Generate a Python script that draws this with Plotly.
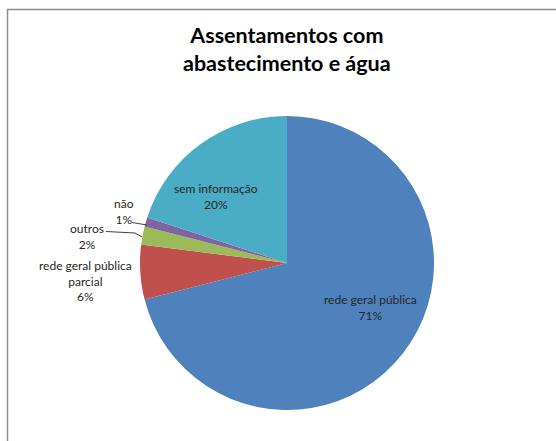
import plotly.graph_objects as go

labels = ["rede geral pública", "rede geral pública parcial", "outros", "não", "sem informação"]
label_text = ["rede geral pública", "rede geral pública<br>parcial", "outros", "não", "sem informação"]
values = [71, 6, 2, 1, 20]
colors = ["#4F81BD", "#C0504D", "#9BBB59", "#8064A2", "#4BACC6"]
title_text = "Assentamentos com<br>abastecimento e água"

W, H = 556, 441
# label centre positions in pixels (layout only)
label_pos = [(370, 307), (85, 281), (87, 236), (124, 211), (216, 196)]

fig = go.Figure()
fig.add_trace(go.Pie(
    labels=labels, values=values, sort=False, direction="clockwise", rotation=0,
    marker=dict(colors=colors, line=dict(width=0)),
    textinfo="none", hoverinfo="label+percent", showlegend=False,
    domain=dict(x=[(287 - 147) / W, (287 + 147) / W], y=[1 - 410 / H, 1 - 116 / H]),
))

total = sum(values)
annotations = []
for txt, v, (px, py) in zip(label_text, values, label_pos):
    annotations.append(dict(
        x=px / W, y=1 - py / H, xref="paper", yref="paper",
        text=f"{txt}<br>{round(v / total * 100)}%", showarrow=False,
        font=dict(family="Lato", size=12, color="#262626"), align="center",
        xanchor="center", yanchor="middle",
    ))
annotations.append(dict(
    x=287 / W, y=1 - 49 / H, xref="paper", yref="paper", text="<b>" + title_text + "</b>",
    showarrow=False, font=dict(family="Lato", size=21.5, color="#000000"),
    xanchor="center", yanchor="middle", align="center",
))

shapes = [
    dict(type="rect", xref="paper", yref="paper", x0=7.5 / W, x1=1.02, y0=-0.02, y1=1 - 9.5 / H,
         line=dict(color="#8C8C8C", width=1.5), fillcolor="rgba(0,0,0,0)", layer="below"),
    dict(type="path", xref="paper", yref="paper",
         path=f"M {132/W},{1-222.5/H} L {147/W},{1-225/H}", line=dict(color="#404040", width=1)),
    dict(type="path", xref="paper", yref="paper",
         path=f"M {106/W},{1-231.5/H} L {135/W},{1-233/H} L {142/W},{1-237/H}",
         line=dict(color="#404040", width=1)),
]

fig.update_layout(
    width=W, height=H, margin=dict(l=0, r=0, t=0, b=0),
    paper_bgcolor="white", plot_bgcolor="white",
    annotations=annotations, shapes=shapes,
)
fig.write_html("out.html")
